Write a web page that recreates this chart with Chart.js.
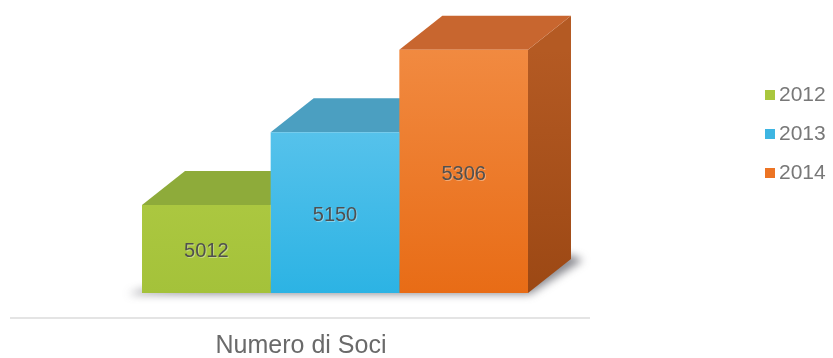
<!DOCTYPE html>
<html>
<head>
<meta charset="utf-8">
<script src="https://cdn.jsdelivr.net/npm/chart.js@4"></script>
<style>
  html, body { margin: 0; padding: 0; background: #fff; }
  #wrap { width: 833px; height: 358px; }
</style>
</head>
<body>
<div id="wrap"><canvas id="chart" width="833" height="358"></canvas></div>
<script>
// dati: numero di soci per anno
const categories = ["Numero di Soci"];
const years = ["2012", "2013", "2014"];
const soci2012 = [5012];
const soci2013 = [5150];
const soci2014 = [5306];

const Y_MIN = 4845;
const Y_MAX = 5355;

// colori: [fronte alto, fronte basso, tetto, lato alto, lato basso, legenda]
const palette = [
  ["#bad24c", "#a4c23a", "#8eab3a", "#7f9a30", "#6f8a28", "#a9c73d"],
  ["#72ccf0", "#2cb3e4", "#4b9fc1", "#3a8aab", "#2f7896", "#3db5e2"],
  ["#f28d45", "#e86c16", "#c8662f", "#b45a23", "#9c4814", "#ec7424"],
];

const DEPTH_X = 43;
const DEPTH_Y = -34;

const FONT = "'Liberation Sans', Arial, sans-serif";

function frontGradient(ctx, i) {
  const area = ctx.chart.chartArea;
  if (!area) return palette[i][1];
  const g = ctx.chart.ctx.createLinearGradient(0, area.top, 0, area.bottom);
  g.addColorStop(0, palette[i][0]);
  g.addColorStop(1, palette[i][1]);
  return g;
}

function poly(c, pts, fill) {
  c.beginPath();
  c.moveTo(pts[0][0], pts[0][1]);
  for (let k = 1; k < pts.length; k++) c.lineTo(pts[k][0], pts[k][1]);
  c.closePath();
  c.fillStyle = fill;
  c.fill();
}

// tetto, lato e ombra dietro le facce frontali
const boxFaces = {
  id: "boxFaces",
  beforeDatasetsDraw(chart) {
    const c = chart.ctx;
    const bars = chart.data.datasets.map((_, i) => chart.getDatasetMeta(i).data[0]);
    const first = bars[0];
    const last = bars[bars.length - 1];
    const left = first.x - first.width / 2;
    const right = last.x + last.width / 2;
    const base = first.base;

    // ombra sul pavimento
    c.save();
    c.filter = "blur(4px)";
    poly(c, [
      [left - 14, base + 1],
      [right + 2, base + 1],
      [right + DEPTH_X + 12, base + DEPTH_Y + 1],
      [right + DEPTH_X, base + DEPTH_Y - 4],
      [left, base - 3],
    ], "rgba(60,60,70,0.6)");
    c.restore();

    bars.forEach((bar, i) => {
      const x0 = bar.x - bar.width / 2;
      const x1 = bar.x + bar.width / 2;
      const top = bar.y;
      const bottom = bar.base;

      const side = c.createLinearGradient(0, top, 0, bottom);
      side.addColorStop(0, palette[i][3]);
      side.addColorStop(1, palette[i][4]);
      poly(c, [
        [x1, top], [x1 + DEPTH_X, top + DEPTH_Y],
        [x1 + DEPTH_X, bottom + DEPTH_Y], [x1, bottom],
      ], side);

      poly(c, [
        [x0, top], [x1, top],
        [x1 + DEPTH_X, top + DEPTH_Y], [x0 + DEPTH_X, top + DEPTH_Y],
      ], palette[i][2]);
    });
  },
  afterDatasetsDraw(chart) {
    const c = chart.ctx;
    c.save();
    c.font = "20px " + FONT;
    c.textAlign = "center";
    c.textBaseline = "middle";
    chart.data.datasets.forEach((ds, i) => {
      const bar = chart.getDatasetMeta(i).data[0];
      const y = (bar.y + bar.base) / 2 + 3;
      c.fillStyle = "rgba(255,255,255,0.35)";
      c.fillText(String(ds.data[0]), bar.x + 1, y + 1);
      c.fillStyle = "#505050";
      c.fillText(String(ds.data[0]), bar.x, y);
    });
    c.restore();
  },
  afterDraw(chart) {
    const c = chart.ctx;
    const area = chart.chartArea;
    // bordo anteriore del pavimento
    const fx0 = area.left - 35;
    const fx1 = area.right - 35;
    const fy = area.bottom + 25;
    c.save();
    c.strokeStyle = "#e4e4e4";
    c.lineWidth = 2;
    c.beginPath();
    c.moveTo(fx0, fy);
    c.lineTo(fx1, fy);
    c.stroke();

    c.font = "25px " + FONT;
    c.fillStyle = "#6a6a6a";
    c.textAlign = "center";
    c.textBaseline = "middle";
    c.fillText(categories[0], (fx0 + fx1) / 2 + 1, fy + 28);

    // legenda
    c.font = "21px " + FONT;
    c.textAlign = "left";
    chart.data.datasets.forEach((ds, i) => {
      const y = 95 + i * 39;
      c.fillStyle = palette[i][5];
      c.fillRect(765, y - 5, 10, 10);
      c.fillStyle = "#787878";
      c.fillText(ds.label, 779, y);
    });
    c.restore();
  },
};

const series = [soci2012, soci2013, soci2014];

new Chart(document.getElementById("chart"), {
  type: "bar",
  data: {
    labels: categories,
    datasets: series.map((values, i) => ({
      label: years[i],
      data: values,
      base: Y_MIN,
      backgroundColor: (ctx) => frontGradient(ctx, i),
      borderWidth: 0,
      barPercentage: 1,
      categoryPercentage: 0.6655,
    })),
  },
  options: {
    responsive: false,
    animation: false,
    layout: { padding: { left: 45, right: 208, top: 24, bottom: 65 } },
    plugins: {
      legend: { display: false },
      tooltip: { enabled: false },
    },
    scales: {
      x: { display: false },
      y: { display: false, min: Y_MIN, max: Y_MAX },
    },
  },
  plugins: [boxFaces],
});
</script>
</body>
</html>
